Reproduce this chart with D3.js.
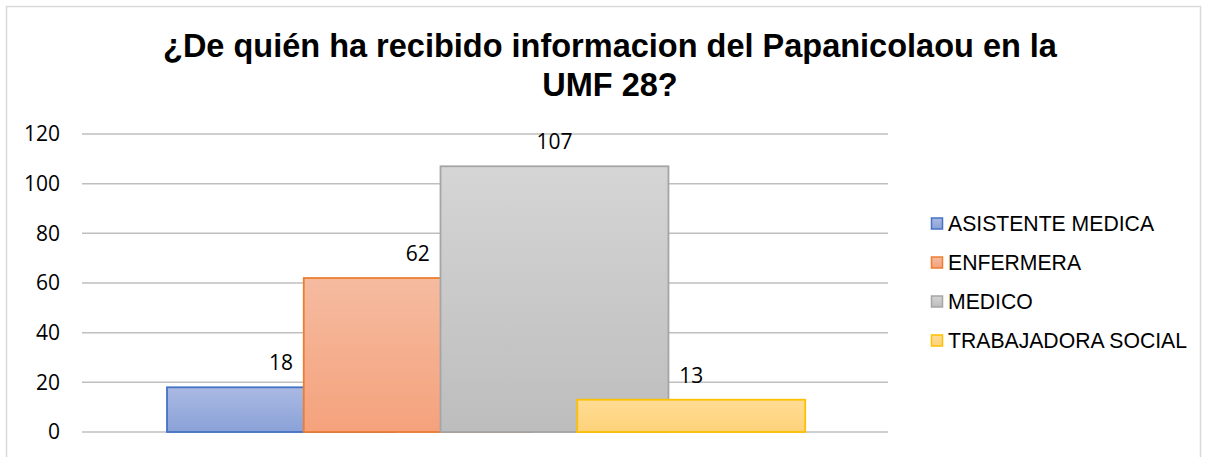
<!DOCTYPE html>
<html>
<head>
<meta charset="utf-8">
<script src="https://cdn.jsdelivr.net/npm/d3@7"></script>
<style>
  body { margin: 0; background: #fff; }
</style>
</head>
<body>
<div id="chart"></div>
<script>
// Single-category clustered bar chart with overlapping series (Excel style)
const width = 1207, height = 457;

const titleLines = ["¿De quién ha recibido informacion del Papanicolaou en la", "UMF 28?"];
const series = ["ASISTENTE MEDICA", "ENFERMERA", "MEDICO", "TRABAJADORA SOCIAL"];
const values = [18, 62, 107, 13];
const yTicks = [0, 20, 40, 60, 80, 100, 120];

const fills = [["#aab9e2", "#8aa2d8"], ["#f5bba0", "#f5a27c"], ["#d5d5d5", "#bdbdbd"], ["#ffdc94", "#fdd27a"]];
const strokes = ["#4472c4", "#ed7d31", "#a5a5a5", "#ffc000"];

const plot = {left: 82, right: 888, top: 134, bottom: 432};

const svg = d3.select("#chart").append("svg").attr("width", width).attr("height", height);

// chart border
svg.append("rect").attr("x", 6.5).attr("y", 6.5).attr("width", 1194).attr("height", 470)
  .attr("fill", "#fff").attr("stroke", "#d9d9d9").attr("stroke-width", 1.5);

// title
svg.append("text").attr("x", 610).attr("y", 57)
  .attr("text-anchor", "middle")
  .style("font-family", "Liberation Sans, Arial, sans-serif")
  .style("font-weight", "bold").style("font-size", "32.5px").attr("fill", "#000")
  .selectAll("tspan").data(titleLines).join("tspan")
  .attr("x", 610).attr("dy", (d, i) => i ? 39 : 0).text(d => d);

const y = d3.scaleLinear().domain([0, 120]).range([plot.bottom, plot.top]);

// gridlines
svg.append("g").selectAll("line").data(yTicks).join("line")
  .attr("x1", plot.left).attr("x2", plot.right)
  .attr("y1", d => y(d)).attr("y2", d => y(d))
  .attr("stroke", "#bfbfbf").attr("stroke-width", 1.5);

// y axis labels
const axis = d3.axisLeft(y).tickValues(yTicks).tickSize(0).tickPadding(0);
const ag = svg.append("g").attr("transform", `translate(60,0)`).call(axis);
ag.select(".domain").remove();
ag.selectAll("text")
  .style("font-family", "Open Sans, sans-serif").style("font-size", "21px").attr("fill", "#000");

// bars: series offset via band scale, each bar overlaps the next
const x = d3.scaleBand().domain(series).range([167, 714]).padding(0);
const barW = x.step() * 1.667;

const defs = svg.append("defs");
series.forEach((s, i) => {
  const g = defs.append("linearGradient").attr("id", "g" + i)
    .attr("x1", 0).attr("x2", 0).attr("y1", 0).attr("y2", 1);
  g.append("stop").attr("offset", "0%").attr("stop-color", fills[i][0]);
  g.append("stop").attr("offset", "100%").attr("stop-color", fills[i][1]);
});

svg.append("g").selectAll("rect").data(series).join("rect")
  .attr("x", d => x(d)).attr("width", barW)
  .attr("y", (d, i) => y(values[i])).attr("height", (d, i) => y(0) - y(values[i]))
  .attr("fill", (d, i) => `url(#g${i})`)
  .attr("stroke", (d, i) => strokes[i]).attr("stroke-width", 1.8);

// data labels
svg.append("g").selectAll("text").data(series).join("text")
  .attr("x", d => x(d) + barW / 2)
  .attr("y", (d, i) => y(values[i]) - 17)
  .attr("text-anchor", "middle")
  .style("font-family", "Open Sans, sans-serif").style("font-size", "21px").attr("fill", "#000")
  .text((d, i) => values[i]);

// legend
const lg = svg.append("g").selectAll("g").data(series).join("g")
  .attr("transform", (d, i) => `translate(931,${223.5 + i * 39})`);
lg.append("rect").attr("x", 0.5).attr("y", -5.5).attr("width", 11).attr("height", 11)
  .attr("fill", (d, i) => `url(#g${i})`)
  .attr("stroke", (d, i) => strokes[i]).attr("stroke-width", 1.5);
lg.append("text").attr("x", 17).attr("y", 7.5)
  .style("font-family", "Liberation Sans, Arial, sans-serif").style("font-size", "21.2px").attr("fill", "#000")
  .text(d => d);
</script>
</body>
</html>
